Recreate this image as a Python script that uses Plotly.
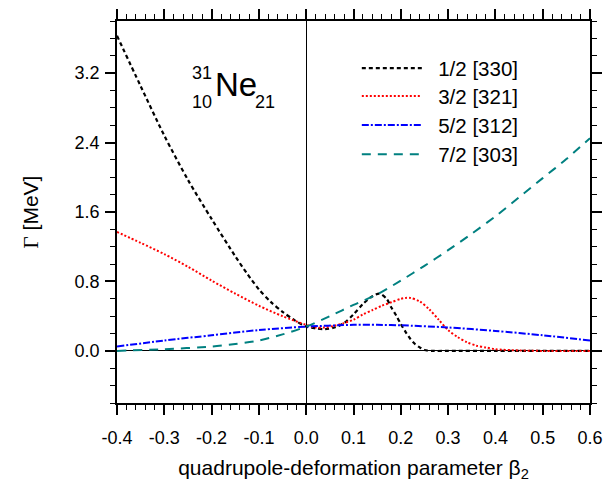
import plotly.graph_objects as go

# ---- data ----
beta_330 = [-0.40, -0.35, -0.30, -0.25, -0.20, -0.15, -0.125, -0.10, -0.075, -0.05, -0.025, 0.00,
            0.02, 0.04, 0.06, 0.08, 0.10, 0.12, 0.14, 0.155, 0.17, 0.18, 0.19, 0.20, 0.21, 0.22,
            0.23, 0.24, 0.25, 0.27, 0.30, 0.40, 0.50, 0.60]
gamma_330 = [3.63, 3.05, 2.48, 1.97, 1.52, 1.09, 0.89, 0.71, 0.565, 0.45, 0.355, 0.28,
             0.26, 0.25, 0.27, 0.32, 0.42, 0.54, 0.63, 0.66, 0.60, 0.50, 0.41, 0.31, 0.22, 0.14,
             0.08, 0.04, 0.01, 0.0, 0.0, 0.0, 0.0, 0.0]

beta_321 = [-0.40, -0.35, -0.30, -0.25, -0.20, -0.15, -0.10, -0.05, 0.00, 0.02, 0.04, 0.06, 0.08,
            0.10, 0.12, 0.14, 0.16, 0.18, 0.20, 0.21, 0.22, 0.24, 0.26, 0.28, 0.30, 0.32, 0.34,
            0.36, 0.38, 0.40, 0.45, 0.50, 0.60]
gamma_321 = [1.37, 1.245, 1.115, 0.97, 0.81, 0.66, 0.52, 0.40, 0.30, 0.27, 0.27, 0.29, 0.32,
             0.36, 0.42, 0.47, 0.52, 0.56, 0.60, 0.61, 0.61, 0.57, 0.48, 0.36, 0.24, 0.16, 0.10,
             0.06, 0.04, 0.02, 0.005, 0.0, 0.0]

beta_312 = [-0.40, -0.30, -0.20, -0.10, 0.00, 0.10, 0.15, 0.20, 0.30, 0.40, 0.50, 0.60]
gamma_312 = [0.05, 0.12, 0.18, 0.24, 0.28, 0.30, 0.30, 0.295, 0.27, 0.23, 0.18, 0.12]

beta_303 = [-0.40, -0.30, -0.20, -0.15, -0.10, -0.05, 0.00, 0.05, 0.10, 0.15, 0.20, 0.25,
            0.30, 0.35, 0.40, 0.45, 0.50, 0.55, 0.60]
gamma_303 = [0.0, 0.02, 0.05, 0.08, 0.12, 0.19, 0.28, 0.40, 0.53, 0.65, 0.81, 0.98,
             1.16, 1.35, 1.55, 1.77, 1.99, 2.21, 2.45]

names = ["1/2 [330]", "3/2 [321]", "5/2 [312]", "7/2 [303]"]
x_ticks = [-0.4, -0.3, -0.2, -0.1, 0.0, 0.1, 0.2, 0.3, 0.4, 0.5, 0.6]
y_ticks = [0.0, 0.8, 1.6, 2.4, 3.2]

series = [
    (beta_330, gamma_330, names[0], "#000000", "4px,3px", 2.2),
    (beta_321, gamma_321, names[1], "#ff0000", "2px,2px", 2),
    (beta_312, gamma_312, names[2], "#0000ff", "7px,2px,2px,2px", 2),
    (beta_303, gamma_303, names[3], "#008080", "9px,7px", 2),
]
legend_ids = ["legend", "legend2", "legend3", "legend4"]
legend_y = [0.876, 0.803, 0.727, 0.651]

fig = go.Figure()
for (bx, gy, nm, col, dash, w), lid in zip(series, legend_ids):
    fig.add_trace(go.Scatter(
        x=bx, y=gy, name="\u00a0\u00a0" + nm, mode="lines", legend=lid,
        line=dict(color=col, dash=dash, width=w, shape="spline", smoothing=0.8),
    ))

axis_common = dict(
    showline=True, linecolor="black", linewidth=1.5, mirror="ticks",
    ticks="outside", ticklen=10, tickwidth=1.5, tickcolor="black",
    showgrid=False, zeroline=True, zerolinecolor="black", zerolinewidth=1,
    automargin=False,
    tickfont=dict(family="Liberation Sans, Arial", size=18, color="black"),
)

fig.update_xaxes(
    range=[-0.4, 0.6], tickvals=x_ticks, ticktext=[f"{v:.1f}" for v in x_ticks],
    minor=dict(dtick=0.02, tick0=0, ticks="outside", ticklen=5, tickwidth=1.2, tickcolor="black"),
    ticklabelstandoff=8,
    title=dict(text="quadrupole-deformation parameter β<sub>2</sub>",
               font=dict(family="Liberation Sans, Arial", size=21, color="black"), standoff=13),
    **axis_common,
)
fig.update_yaxes(
    range=[-0.6, 3.8], tickvals=y_ticks, ticktext=[f"{v:.1f}" for v in y_ticks],
    minor=dict(dtick=0.2, tick0=0, ticks="outside", ticklen=5, tickwidth=1.2, tickcolor="black"),
    ticklabelstandoff=2,
    title=dict(text="<span style='font-family:Liberation Serif'>Γ</span> [MeV]",
               font=dict(family="Liberation Sans, Arial", size=21, color="black"), standoff=30),
    **axis_common,
)

ann_font_small = dict(family="Liberation Sans, Arial", size=18, color="black")
fig.add_annotation(x=-0.195, y=3.2, text="31", showarrow=False, xanchor="right",
                   yanchor="middle", font=ann_font_small)
fig.add_annotation(x=-0.195, y=2.87, text="10", showarrow=False, xanchor="right",
                   yanchor="middle", font=ann_font_small)
fig.add_annotation(x=-0.197, y=3.07, text="Ne", showarrow=False, xanchor="left",
                   yanchor="middle", font=dict(family="Liberation Sans, Arial", size=33, color="black"))
fig.add_annotation(x=-0.113, y=2.87, text="21", showarrow=False, xanchor="left",
                   yanchor="middle", font=ann_font_small)

legend_common = dict(x=0.507, xanchor="left", yanchor="middle",
                     bgcolor="rgba(0,0,0,0)", borderwidth=0,
                     font=dict(family="Liberation Sans, Arial", size=20.5, color="black"),
                     itemwidth=60)

fig.update_layout(
    width=605, height=495,
    margin=dict(l=117, r=15, t=21, b=92),
    paper_bgcolor="white", plot_bgcolor="white",
    showlegend=True,
    legend=dict(y=legend_y[0], **legend_common),
    legend2=dict(y=legend_y[1], **legend_common),
    legend3=dict(y=legend_y[2], **legend_common),
    legend4=dict(y=legend_y[3], **legend_common),
)

fig.write_html("out.html", config={"displayModeBar": False},
               post_script="document.body.style.margin='0';document.body.style.overflow='hidden';")
